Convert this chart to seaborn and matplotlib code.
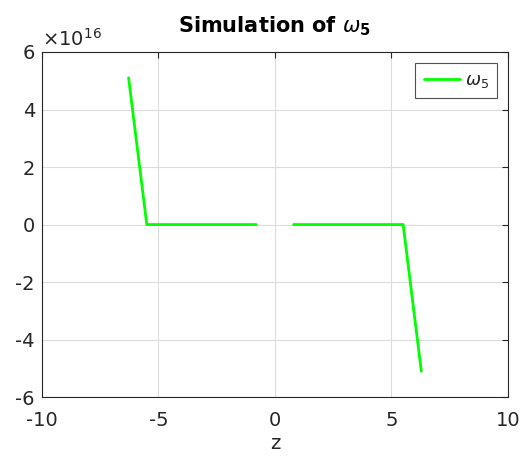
import numpy as np
import pandas as pd
import matplotlib
matplotlib.use("Agg")
import matplotlib.pyplot as plt
from matplotlib.ticker import FuncFormatter
import seaborn as sns

# data
z_left = [-6.28, -5.5, -0.8]
w_left = [5.1e16, 0.0, 0.0]
z_right = [0.8, 5.5, 6.28]
w_right = [0.0, 0.0, -5.1e16]

x_ticks = [-10, -5, 0, 5, 10]
y_ticks = [-6e16, -4e16, -2e16, 0, 2e16, 4e16, 6e16]
y_scale = 1e16

sns.set_style("white")
plt.rcParams['font.family'] = ['DejaVu Sans']
plt.rcParams['axes.unicode_minus'] = False
plt.rcParams['mathtext.fontset'] = 'dejavusans'

fig = plt.figure(figsize=(5.24, 4.58), dpi=100)
ax = fig.add_axes([0.080, 0.133, 0.8895, 0.7535])

dl = pd.DataFrame({"z": z_left, "w": w_left})
dr = pd.DataFrame({"z": z_right, "w": w_right})
green = "#00ff00"
sns.lineplot(data=dl, x="z", y="w", ax=ax, color=green, linewidth=2, sort=False,
             label=r"$\omega_5$")
sns.lineplot(data=dr, x="z", y="w", ax=ax, color=green, linewidth=2, sort=False,
             label="_nolegend_")

ax.set_xlim(-10, 10)
ax.set_ylim(-6e16, 6e16)
ax.set_xticks(x_ticks)
ax.set_yticks(y_ticks)
ax.yaxis.set_major_formatter(FuncFormatter(lambda v, p: "%g" % round(v / y_scale, 6)))
ax.text(0.0, 1.005, r"$\times10^{16}$", transform=ax.transAxes, fontsize=14,
        color='#262626', ha='left', va='bottom')

ax.grid(True, color='#dcdcdc', linewidth=0.8)
ax.set_axisbelow(True)
for s in ax.spines.values():
    s.set_color('#262626')
    s.set_linewidth(0.8)
ax.tick_params(direction='in', length=4, labelsize=14, colors='#262626',
               top=True, right=True, labeltop=False, labelright=False)
ax.tick_params(axis='y', pad=5)
ax.tick_params(axis='x', pad=10)

ax.set_xlabel("z", fontsize=14, color='#262626', labelpad=3)
ax.set_ylabel("")
ax.set_title(r"Simulation of $\omega_\mathbf{5}$", fontsize=15, fontweight='bold',
             color='black', pad=14)

leg = ax.legend(loc='upper right', fontsize=13, frameon=True, fancybox=False,
                edgecolor='#262626', handlelength=2.0, borderpad=0.45,
                handletextpad=0.3, borderaxespad=0.6)
leg.get_frame().set_linewidth(0.8)

fig.savefig("out.png", dpi=100)
